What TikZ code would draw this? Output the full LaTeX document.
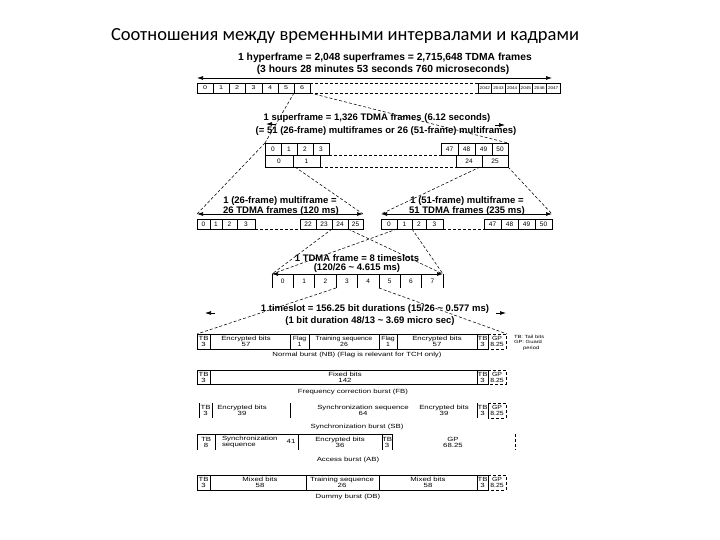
\documentclass[tikz,border=0pt]{standalone}
\usepackage{fontspec}
\setmainfont{Liberation Sans}
\newfontfamily\titlefont{Carlito}
\newfontfamily\wide[FakeStretch=1.3]{Liberation Sans}
\newfontfamily\midwide[FakeStretch=1.15]{Liberation Sans}
\usetikzlibrary{arrows.meta}
\begin{document}
\begin{tikzpicture}[x=1pt,y=-1pt,
 every node/.style={inner sep=0pt, outer sep=0pt},
 ln/.style={line width=0.6pt},
 dsh/.style={line width=0.55pt, dash pattern=on 3pt off 2pt},
 arr/.style={line width=0.7pt,{Latex[length=6pt,width=4pt]}-{Latex[length=6pt,width=4pt]}},
 onetip/.style={line width=0.7pt,-{Latex[length=6pt,width=4pt]}},
 big/.style={font=\bfseries\fontsize{9.5}{11}\selectfont},
 hbig/.style={font=\bfseries\fontsize{10.3}{12}\selectfont},
 hnum/.style={font=\midwide\fontsize{4}{4}\selectfont},
 snum/.style={font=\fontsize{6.5}{6.5}\selectfont},
 bt/.style={font=\wide\fontsize{6}{6}\selectfont, align=center},
 btn/.style={font=\midwide\fontsize{6}{6}\selectfont, align=center},
 captxt/.style={font=\wide\fontsize{6}{6}\selectfont},
]
\fill[white] (0,0) rectangle (720,540);
\useasboundingbox (0,0) rectangle (720,540);

% title
\node (title) at (345,36) {\titlefont\fontsize{18.5}{22}\selectfont Соотношения между временными интервалами и кадрами};

% ---------- hyperframe ----------
\node[hbig] (h1) at (385,58) {1 hyperframe = 2,048 superframes = 2,715,648 TDMA frames};
\node[hbig] (h2) at (383,70) {(3 hours 28 minutes 53 seconds 760 microseconds)};
\coordinate (ha1) at (197,78); \coordinate (ha2) at (552,78);
\draw[arr] (ha1) -- (ha2);
\foreach \a/\b/\t in {197/213/0,213/229/1,229/245/2,245/262/3,262/278/4,278/294/5,294/310/6}{
  \draw[ln] (\a,83) rectangle (\b,93);
  \node[hnum,font=\wide\fontsize{5.5}{5.5}\selectfont] (hc\t) at ({(\a+\b)/2},88) {\t};
}
\coordinate (hd1) at (310,83); \coordinate (hd2) at (478,83);
\coordinate (hd3) at (310,93); \coordinate (hd4) at (478,93);
\draw[dsh] (hd1) -- (hd2) (hd3) -- (hd4);
\foreach \i/\t in {0/2042,1/2043,2/2044,3/2045,4/2046,5/2047}{
  \draw[ln] ({478+13.67*\i},83) rectangle ({478+13.67*(\i+1)},93);
  \node[hnum] (hr\t) at ({478+13.67*(\i+0.5)},88) {\t};
}

% hyperframe -> superframe
\coordinate (hL) at (294,93); \coordinate (hR) at (310,93);
\coordinate (sTL) at (265,143); \coordinate (sTR) at (508,143);
\draw[dsh] (hL) -- (sTL);
\draw[dsh] (hR) -- (sTR);

% ---------- superframe ----------
\node[big] (s1) at (377,118) {1 superframe = 1,326 TDMA frames (6.12 seconds)};
\node[big] (s2) at (386,131) {(= 51 (26-frame) multiframes or 26 (51-frame) multiframes)};
\coordinate (sa1) at (276,124); \coordinate (sa1t) at (266,124);
\coordinate (sa2) at (495,125); \coordinate (sa2t) at (505,125);
\draw[onetip] (sa1) -- (sa1t);
\draw[onetip] (sa2) -- (sa2t);
% top row (51 cells)
\foreach \a/\b/\t in {265/281/0,281/297/1,297/313/2,313/329/3,441/458/47,458/475/48,475/492/49,492/508/50}{
  \draw[ln] (\a,143) rectangle (\b,155);
  \node[snum] (st\t) at ({(\a+\b)/2},149) {\t};
}
\coordinate (sd1) at (329,155); \coordinate (sd2) at (441,155);
\draw[dsh] (sd1) -- (sd2);
% bottom row (26 cells)
\foreach \a/\b/\t in {265/293/0,293/320/1,456/482/24,482/508/25}{
  \draw[ln] (\a,155) rectangle (\b,167);
  \node[snum] (sb\t) at ({(\a+\b)/2},161) {\t};
}
\coordinate (sd3) at (320,167); \coordinate (sd4) at (456,167);
\draw[dsh] (sd3) -- (sd4);

% superframe -> multiframes
\coordinate (m26L) at (197,214); \coordinate (m26R) at (363,214);
\coordinate (m51L) at (381,214); \coordinate (m51R) at (552,214);
\coordinate (sbA) at (295,167); \coordinate (sbB) at (480,167); \coordinate (sbC) at (508,167);
\draw[dsh] (sTL) -- (m26L);
\draw[dsh] (sbA) -- (m26R);
\draw[dsh] (sbB) -- (m51L);
\draw[dsh] (sbC) -- (m51R);

% ---------- multiframes ----------
\node[big] (m1) at (280,201) {1 (26-frame) multiframe =};
\node[big] (m2) at (281,211) {26 TDMA frames (120 ms)};
\node[big] (m3) at (467,201) {1 (51-frame) multiframe =};
\node[big] (m4) at (467,211) {51 TDMA frames (235 ms)};
\draw[arr] (m26L) -- (m26R);
\draw[arr] (m51L) -- (m51R);
\foreach \a/\b/\t in {197/210/0,210/222/1,222/237/2,237/255/3,300/316/22,316/332/23,332/348/24,348/363/25}{
  \draw[ln] (\a,219) rectangle (\b,229);
  \node[snum] (ma\t) at ({(\a+\b)/2},224) {\t};
}
\coordinate (md1) at (255,229); \coordinate (md2) at (300,229);
\draw[dsh] (md1) -- (md2);
\foreach \a/\b/\t in {381/397/0,397/412/1,412/426/2,426/443/3,484/501/47,501/518/48,518/535/49,535/552/50}{
  \draw[ln] (\a,219) rectangle (\b,229);
  \node[snum] (mb\t) at ({(\a+\b)/2},224) {\t};
}
\coordinate (md3) at (443,229); \coordinate (md4) at (484,229);
\draw[dsh] (md3) -- (md4);

% multiframes -> TDMA frame
\coordinate (tL) at (272,274); \coordinate (tR) at (443,274);
\coordinate (maA) at (332,229); \coordinate (maB) at (348,229);
\coordinate (mbA) at (397,229); \coordinate (mbB) at (412,229);
\draw[dsh] (maA) -- (tL);
\draw[dsh] (maB) -- (tR);
\draw[dsh] (mbA) -- (tL);
\draw[dsh] (mbB) -- (tR);

% ---------- TDMA frame ----------
\node[big] (t1) at (357,258) {1 TDMA frame = 8 timeslots};
\node[big] (t2) at (357,268) {(120/26 \textasciitilde\ 4.615 ms)};
\draw[arr] (tL) -- (tR);
\foreach \i in {0,...,8}{
  \draw[ln] ({272+21.375*\i},274) -- ({272+21.375*\i},288);
}
\foreach \i in {0,...,7}{
  \node[snum] (tc\i) at ({272+21.375*(\i+0.5)},281) {\i};
}

% TDMA -> timeslot
\coordinate (tsA) at (336.1,288); \coordinate (tsB) at (378.9,288);
\coordinate (bL) at (197,334); \coordinate (bR) at (507,334);
\draw[dsh] (tsA) -- (bL);
\draw[dsh] (tsB) -- (bR);

% ---------- timeslot ----------
\node[big] (ts1) at (375,309) {1 timeslot = 156.25 bit durations (15/26 \textasciitilde\ 0.577 ms)};
\node[big] (ts2) at (370,321) {(1 bit duration 48/13 \textasciitilde\ 3.69 micro sec)};
\coordinate (tsa) at (215,313); \coordinate (tsat) at (205,313);
\coordinate (tsb) at (496,313); \coordinate (tsbt) at (506,313);
\draw[onetip] (tsa) -- (tsat);
\draw[onetip] (tsb) -- (tsbt);

% ---------- Normal burst ----------
\draw[ln] (197,334) rectangle (488,349);
\foreach \x in {210,290,309,379,397,477}{ \draw[ln] (\x,334) -- (\x,349); }
\draw[dsh] (488,334) -- (506,334) -- (506,349) -- (488,349);
\node[bt] (nb1) at (203.5,341.5) {TB\\3};
\node[bt] (nb2) at (246,341.5) {Encrypted bits\\57};
\node[btn] (nb3) at (299.5,341.5) {Flag\\1};
\node[btn] (nb4) at (344,341.5) {Training sequence\\26};
\node[btn] (nb5) at (388,341.5) {Flag\\1};
\node[bt] (nb6) at (437,341.5) {Encrypted bits\\57};
\node[bt] (nb7) at (482.5,341.5) {TB\\3};
\node[btn] (nb8) at (497,341.5) {GP\\8.25};
\node[captxt] (nbc) at (357,355) {Normal burst (NB) (Flag is relevant for TCH only)};
\node[font=\wide\fontsize{4.5}{5.5}\selectfont, align=left, anchor=north west] (legend) at (514,335) {TB: Tail bits\\GP: Guard\\\hspace*{9pt}period};

% ---------- Frequency correction burst ----------
\draw[ln] (197,370) rectangle (488,384);
\foreach \x in {210,477}{ \draw[ln] (\x,370) -- (\x,384); }
\draw[dsh] (488,370) -- (506,370) -- (506,384) -- (488,384);
\node[bt] (fb1) at (203.5,377) {TB\\3};
\node[bt] (fb2) at (345,377) {Fixed bits\\142};
\node[bt] (fb3) at (482.5,377) {TB\\3};
\node[btn] (fb4) at (497,377) {GP\\8.25};
\node[captxt] (fbc) at (353,392) {Frequency correction burst (FB)};

% ---------- Synchronization burst ----------
\foreach \x in {199,212,290,477,488}{ \draw[ln] (\x,403) -- (\x,418); }
\draw[dsh] (488,403) -- (506,403) -- (506,418) -- (488,418);
\node[bt] (sb1) at (205.5,410.5) {TB\\3};
\node[bt] (sb2) at (242,410.5) {Encrypted bits\\39};
\node[bt] (sb3) at (363,410.5) {Synchronization sequence\\64};
\node[bt] (sb4) at (444,410.5) {Encrypted bits\\39};
\node[bt] (sb5) at (482.5,410.5) {TB\\3};
\node[btn] (sb6) at (497,410.5) {GP\\8.25};
\node[captxt] (sbc) at (357,427) {Synchronization burst (SB)};

% ---------- Access burst ----------
\draw[ln] (197,450) -- (197,434) -- (392,434) -- (392,450);
\foreach \x in {215,298,382}{ \draw[ln] (\x,434) -- (\x,450); }
\draw[dsh] (515,434) -- (515,450);
\node[bt] (ab1) at (206,442) {TB\\8};
\node[bt, align=left, anchor=west] (ab2) at (222,442) {Synchronization\\sequence};
\node[bt] (ab3) at (291,441) {41};
\node[bt] (ab4) at (340,442) {Encrypted bits\\36};
\node[bt] (ab5) at (387,442) {TB\\3};
\node[bt] (ab6) at (453,442) {GP\\68.25};
\node[captxt] (abc) at (348,460) {Access burst (AB)};

% ---------- Dummy burst ----------
\draw[ln] (197,475) rectangle (488,490);
\foreach \x in {210,306,379,477}{ \draw[ln] (\x,475) -- (\x,490); }
\draw[dsh] (488,475) -- (506,475) -- (506,490) -- (488,490);
\node[bt] (db1) at (203.5,482.5) {TB\\3};
\node[bt] (db2) at (260,482.5) {Mixed bits\\58};
\node[bt] (db3) at (342,482.5) {Training sequence\\26};
\node[bt] (db4) at (428,482.5) {Mixed bits\\58};
\node[bt] (db5) at (482.5,482.5) {TB\\3};
\node[btn] (db6) at (497,482.5) {GP\\8.25};
\node[captxt] (dbc) at (348,497) {Dummy burst (DB)};
\end{tikzpicture}
\end{document}
